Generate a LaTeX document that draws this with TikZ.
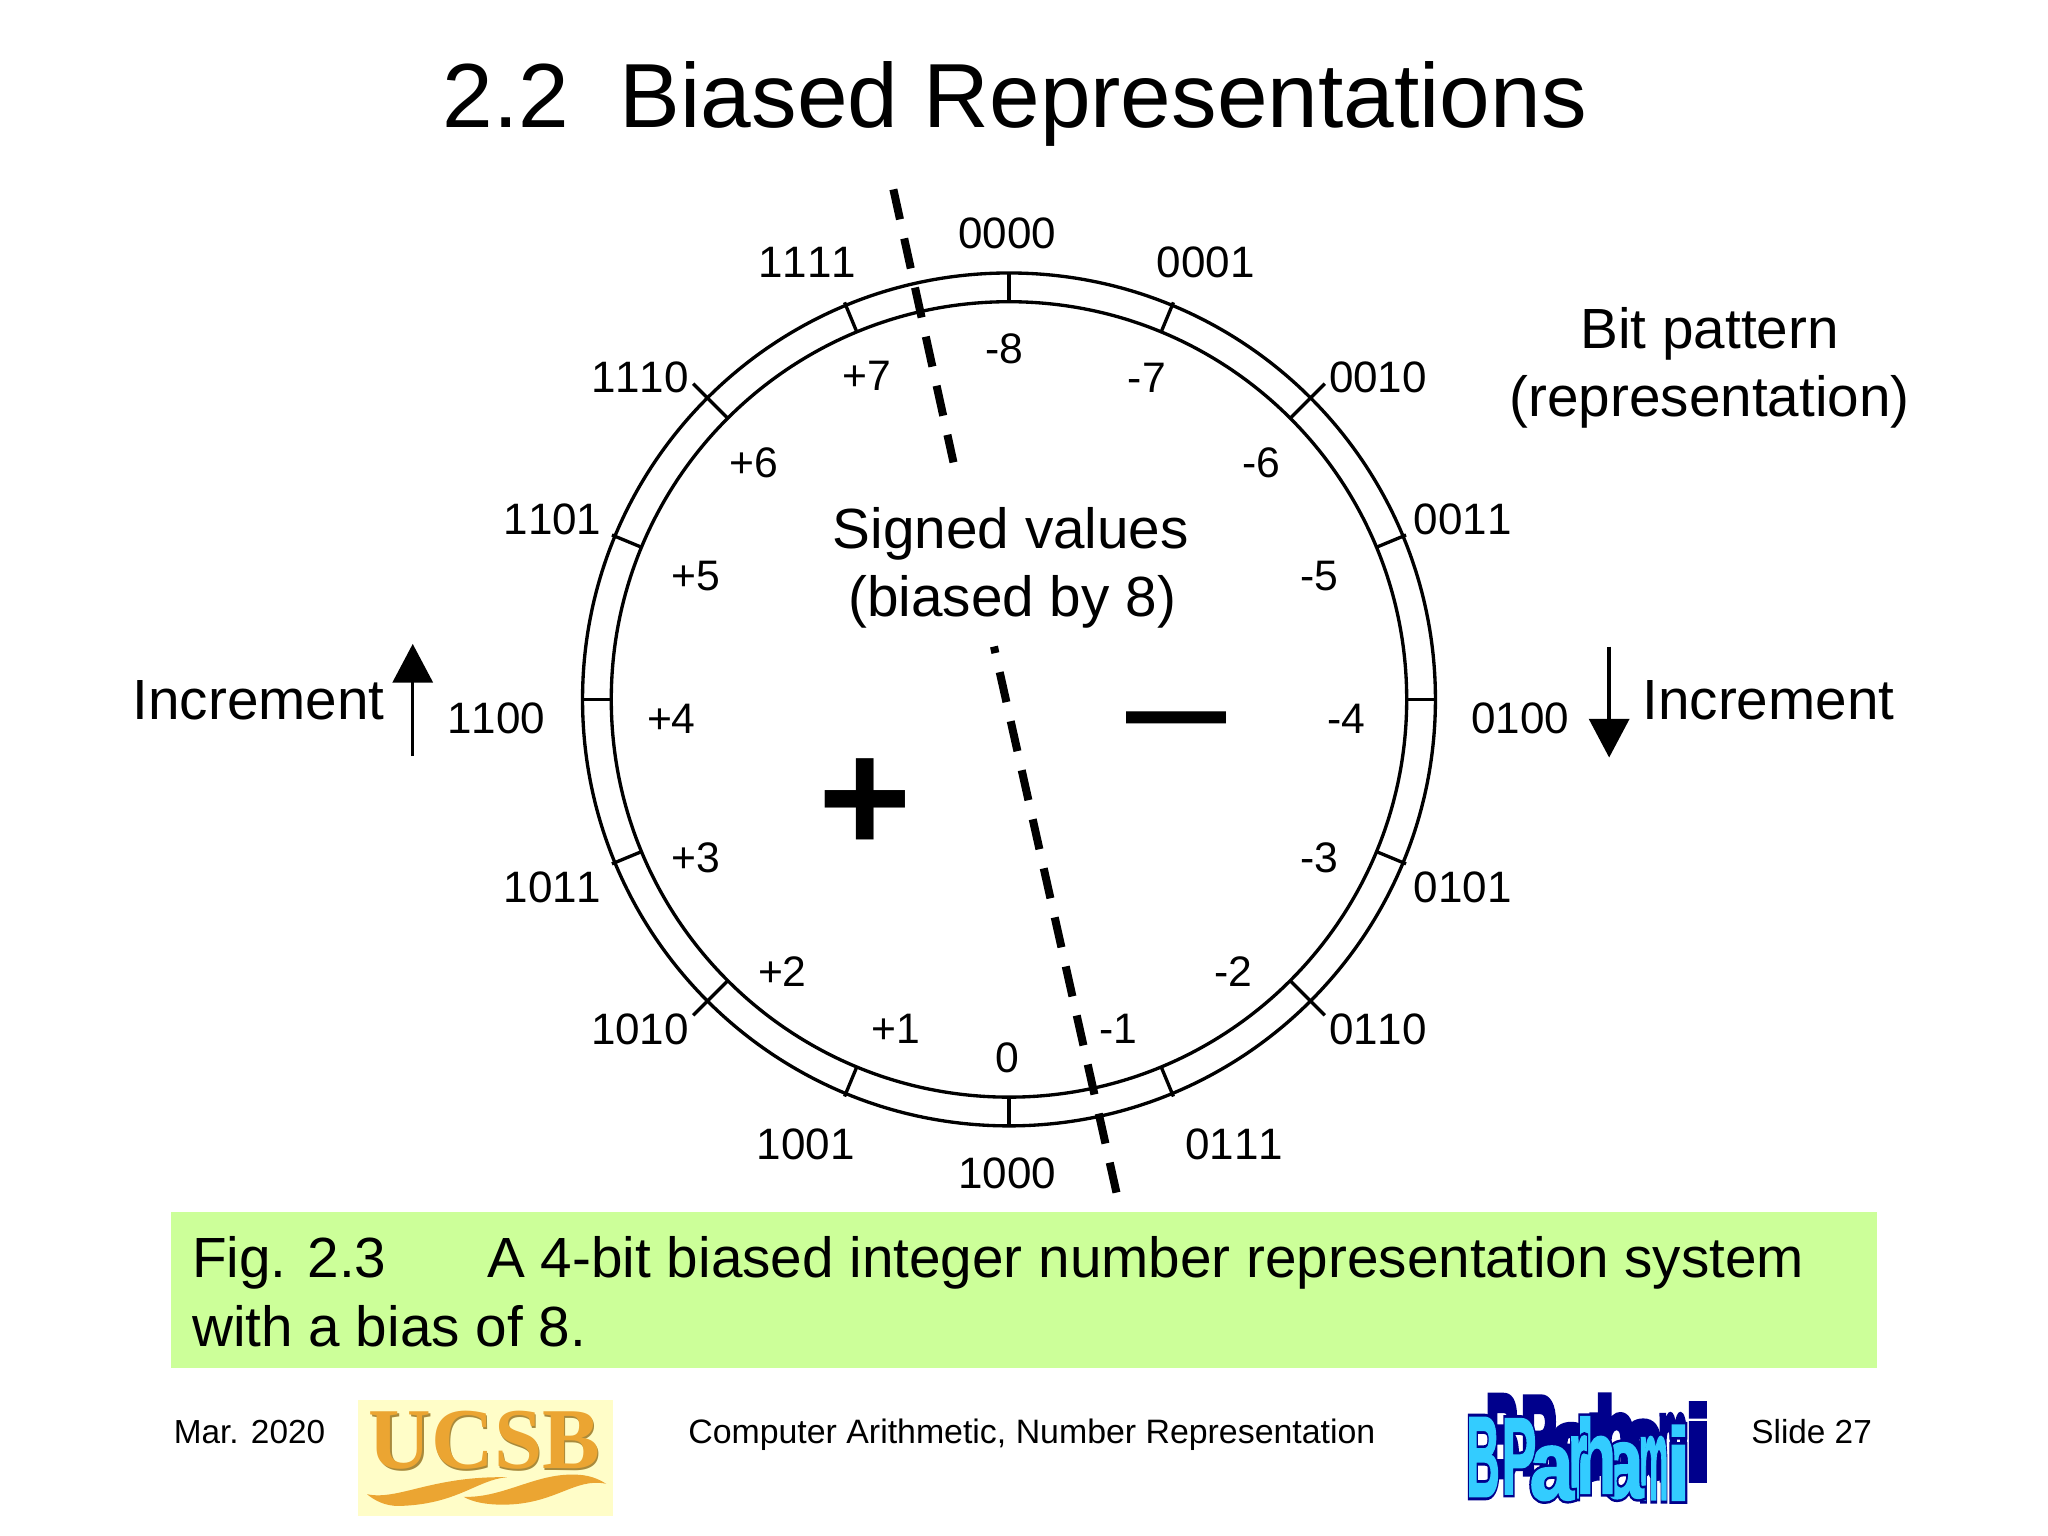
\documentclass[tikz,border=0pt]{standalone}
\usepackage{fontspec}
\setmainfont{Liberation Sans}
\newfontfamily\bitfont{Liberation Sans}[Kerning=Off]
\newfontfamily\logoserif{Liberation Serif}[BoldFont=* Bold]
\newfontfamily\wordartfill{Liberation Sans Bold}[FakeBold=2]
\newfontfamily\wordartedge{Liberation Sans Bold}[FakeBold=7]
\usetikzlibrary{arrows.meta}
\definecolor{captiongreen}{HTML}{CCFF99}
\definecolor{logocream}{HTML}{FFFDC8}
\definecolor{logoorange}{HTML}{EBA532}
\definecolor{logobrown}{HTML}{A88A3C}
\definecolor{wordartnavy}{HTML}{00008C}
\definecolor{wordartsky}{HTML}{33CCFF}
\newcommand{\wordartshadow}[5]{%
    \node (#1shadow) at ([shift={(15,-16)}]#2) [wordart] {\color{wordartnavy}\resizebox{#3pt}{#4pt}{\wordartedge #5}};
}
\newcommand{\wordartface}[5]{%
    \node (#1edge) at (#2) [wordart] {\color{wordartnavy}\resizebox{#3pt}{#4pt}{\wordartedge #5}};
    \node (#1) at (#2) [wordart] {\color{wordartsky}\resizebox{#3pt}{#4pt}{\wordartfill #5}};
}
\begin{document}
\begin{tikzpicture}[x=0.9796pt,y=0.9796pt,yscale=-1,xscale=1,
    titletext/.style={anchor=base,inner sep=0pt,font=\fontsize{68.3}{70}\selectfont},
    bigtext/.style={anchor=base,inner sep=0pt,font=\fontsize{42.5}{45}\selectfont},
    captiontext/.style={anchor=base west,inner sep=0pt,font=\fontsize{42.5}{45}\selectfont},
    bittext/.style={inner sep=0pt,font=\bitfont\fontsize{33}{35}\selectfont},
    valuetext/.style={inner sep=0pt,font=\fontsize{32}{34}\selectfont},
    plustext/.style={inner sep=0pt,font=\bfseries\fontsize{120}{120}\selectfont},
    minustext/.style={inner sep=0pt,font=\fontsize{135}{135}\selectfont},
    foottext/.style={anchor=base,inner sep=0pt,font=\fontsize{25}{27}\selectfont},
    wheel/.style={line width=2.5pt},
    divider/.style={line width=6pt,dash pattern=on 23pt off 14.7pt},
    wordart/.style={inner sep=0pt}]
    \useasboundingbox (0,0) rectangle (1568,1176);

    %Shape: Caption bar
    \fill [captiongreen] (131,928) rectangle (1437,1047);

    %Shape: Circle
    \draw [wheel] (772.5,535.5) circle (326.5);
    %Shape: Circle
    \draw [wheel] (772.5,535.5) circle (304.5);

    %Straight Lines
    \draw [wheel] (772.5,231) -- (772.5,209);
    \draw [wheel] (889,254.2) -- (898.4,231.5);
    \draw [wheel] (987.8,320.2) -- (1014.3,293.7);
    \draw [wheel] (1053.8,419) -- (1076.5,409.6);
    \draw [wheel] (1077,535.5) -- (1099,535.5);
    \draw [wheel] (1053.8,652) -- (1076.5,661.4);
    \draw [wheel] (987.8,750.8) -- (1014.3,777.3);
    \draw [wheel] (889,816.8) -- (898.4,839.5);
    \draw [wheel] (772.5,840) -- (772.5,862);
    \draw [wheel] (656,816.8) -- (646.6,839.5);
    \draw [wheel] (557.2,750.8) -- (530.7,777.3);
    \draw [wheel] (491.2,652) -- (468.5,661.4);
    \draw [wheel] (468,535.5) -- (446,535.5);
    \draw [wheel] (491.2,419) -- (468.5,409.6);
    \draw [wheel] (557.2,320.2) -- (530.7,293.7);
    \draw [wheel] (656,254.2) -- (646.6,231.5);

    %Dashed Lines
    \coordinate (dividertop) at (684,145);
    \coordinate (dividertopend) at (730,354);
    \coordinate (dividerlow) at (761,495);
    \coordinate (dividerlowend) at (855,914);
    \draw [divider] (dividertop) -- (dividertopend);
    \draw [divider,dash phase=18pt] (dividerlow) -- (dividerlowend);

    % Text Node
    \node (title) at (777,98) [titletext] {2.2\ \ Biased Representations};
    % Text Node
    \node (signedvalues) at (774,420) [bigtext] {Signed values};
    \node (biasedby) at (775,472) [bigtext] {(biased by 8)};
    % Text Node
    \node (bitpattern) at (1309,267) [bigtext] {Bit pattern};
    \node (representation) at (1309,319) [bigtext] {(representation)};
    % Text Node
    \node (incrementleft) at (198,551) [bigtext] {Increment};
    \node (incrementright) at (1354,551) [bigtext] {Increment};

    %Straight Lines
    \coordinate (uptail) at (316,579);
    \coordinate (uphead) at (316,493);
    \coordinate (downtail) at (1232,495);
    \coordinate (downhead) at (1232,580);
    \draw [line width=2.5pt,-{Triangle[length=29pt,width=30pt]}] (uptail) -- (uphead);
    \draw [line width=2.5pt,-{Triangle[length=29pt,width=30pt]}] (downtail) -- (downhead);

    % Text Node
    \node (bit0000) at (771,179) [bittext] {0000};
    \node (bit0001) at (923,201) [bittext] {0001};
    \node (bit0010) at (1055,289) [bittext] {0010};
    \node (bit0011) at (1120,398) [bittext] {0011};
    \node (bit0100) at (1164,550) [bittext] {0100};
    \node (bit0101) at (1120,679) [bittext] {0101};
    \node (bit0110) at (1055,788) [bittext] {0110};
    \node (bit0111) at (945,876) [bittext] {0111};
    \node (bit1000) at (771,898) [bittext] {1000};
    \node (bit1001) at (617,876) [bittext] {1001};
    \node (bit1010) at (490,788) [bittext] {1010};
    \node (bit1011) at (423,679) [bittext] {1011};
    \node (bit1100) at (380,550) [bittext] {1100};
    \node (bit1101) at (423,398) [bittext] {1101};
    \node (bit1110) at (490,289) [bittext] {1110};
    \node (bit1111) at (618,201) [bittext] {1111};

    % Text Node
    \node (valm8) at (769,267) [valuetext] {-8};
    \node (valm7) at (878,289) [valuetext] {-7};
    \node (valm6) at (966,354) [valuetext] {-6};
    \node (valm5) at (1010,441) [valuetext] {-5};
    \node (valm4) at (1031,550) [valuetext] {-4};
    \node (valm3) at (1010,657) [valuetext] {-3};
    \node (valm2) at (944,744) [valuetext] {-2};
    \node (valm1) at (856,788) [valuetext] {-1};
    \node (val0) at (771,810) [valuetext] {0};
    \node (valp1) at (686,788) [valuetext] {+1};
    \node (valp2) at (599,744) [valuetext] {+2};
    \node (valp3) at (533,657) [valuetext] {+3};
    \node (valp4) at (514,550) [valuetext] {+4};
    \node (valp5) at (533,441) [valuetext] {+5};
    \node (valp6) at (577,354) [valuetext] {+6};
    \node (valp7) at (664,288) [valuetext] {+7};

    % Text Node
    \node (plussign) at (662.5,616.5) [plustext] {+};
    \node (minussign) at (900.5,564.5) [minustext] {\char"2013};

    % Text Node
    \node (figlabel) at (147,978) [captiontext] {Fig. 2.3};
    \node (figtitle) at (373,978) [captiontext] {A 4-bit biased integer number representation system};
    \node (figtitlemore) at (147,1031) [captiontext] {with a bias of 8.};

    % Text Node
    \node (footdate) at (191,1105) [foottext] {Mar. 2020};
    \node (footcourse) at (790,1105) [foottext,font=\fontsize{25.4}{27}\selectfont] {Computer Arithmetic, Number Representation};
    \node (footslide) at (1387,1105) [foottext] {Slide 27};

    %Shape: UCSB logo
    \fill [logocream] (274,1072) rectangle (469,1161);
    \node (ucsbshade) at (372,1104) [inner sep=0pt,text=logobrown,font=\logoserif\bfseries\fontsize{65}{65}\selectfont] {UCSB};
    \node (ucsb) at (371,1103) [inner sep=0pt,text=logoorange,font=\logoserif\bfseries\fontsize{65}{65}\selectfont] {UCSB};
    \fill [logoorange] (281,1144) .. controls (305,1149) and (330,1130) .. (388,1131) .. controls (365,1133) and (350,1152) .. (305,1153) .. controls (295,1153) and (287,1149) .. (281,1144) -- cycle;
    \fill [logoorange] (355,1146) .. controls (385,1147) and (410,1128) .. (440,1129) .. controls (450,1129) and (458,1132) .. (464,1136) .. controls (440,1131) and (425,1152) .. (385,1152) .. controls (372,1152) and (362,1150) .. (355,1146) -- cycle;

    %Shape: Word art logo
    \wordartshadow{lettermi}{1285,1120}{18}{56}{i}
    \wordartshadow{letterm}{1266,1124}{22}{47}{m}
    \wordartshadow{letterah}{1243,1126}{30}{41}{a}
    \wordartshadow{letterh}{1222,1114}{30}{57}{h}
    \wordartshadow{letterr}{1208,1123}{14}{46}{r}
    \wordartshadow{lettera}{1188,1128}{33}{40}{a}
    \wordartshadow{letterp}{1163,1115}{26}{56}{P}
    \wordartshadow{letterb}{1135.5,1115.5}{25}{59}{B}
    \wordartface{lettermi}{1285,1120}{18}{56}{i}
    \wordartface{letterm}{1266,1124}{22}{47}{m}
    \wordartface{letterah}{1243,1126}{30}{41}{a}
    \wordartface{letterh}{1222,1114}{30}{57}{h}
    \wordartface{letterr}{1208,1123}{14}{46}{r}
    \wordartface{lettera}{1188,1128}{33}{40}{a}
    \wordartface{letterp}{1163,1115}{26}{56}{P}
    \wordartface{letterb}{1135.5,1115.5}{25}{59}{B}
\end{tikzpicture}
\end{document}
